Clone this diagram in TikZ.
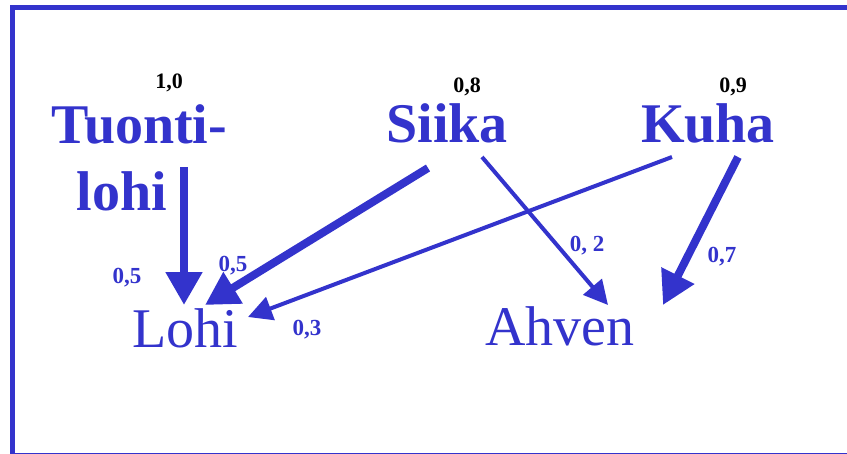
\documentclass[tikz,border=0pt]{standalone}
\usepackage{fontspec}
\setmainfont{Liberation Serif}
\usetikzlibrary{arrows.meta}
\definecolor{fishblue}{RGB}{51,51,204}
\tikzset{
  species/.style={anchor=base, inner sep=0pt, text=fishblue, font=\fontsize{56}{60}\selectfont\bfseries},
  prey/.style={anchor=base, inner sep=0pt, text=fishblue, font=\fontsize{56}{60}\selectfont},
  weight/.style={anchor=base, inner sep=0pt, text=black, font=\fontsize{22}{24}\selectfont\bfseries},
  share/.style={anchor=base, inner sep=0pt, text=fishblue, font=\fontsize{23}{25}\selectfont\bfseries},
  thickarrow/.style={draw=fishblue, line width=8pt, -{Triangle[length=33pt,width=35pt,fill=fishblue]}},
  thinarrow/.style={draw=fishblue, line width=4pt, -{Triangle[length=24pt,width=24pt,fill=fishblue]}},
  frame/.style={draw=fishblue, line width=5pt}
}
\begin{document}
\begin{tikzpicture}[x=1pt,y=-1pt]
\useasboundingbox (0,0) rectangle (847,453);
\draw[frame] (12.5,7.5) rectangle (870,455.2);
% weights
\node[weight] (w10) at (169,88) {1,0};
\node[weight] (w08) at (467,92) {0,8};
\node[weight] (w09) at (733,92) {0,9};
% species
\node[species] (tuonti) at (139.5,143) {Tuonti-};
\node[species] (tuontilohi) at (122,210) {lohi};
\node[species] (siika) at (447,142) {Siika};
\node[species] (kuha) at (708,142) {Kuha};
\node[prey] (lohi) at (185,347) {Lohi};
\node[prey] (ahven) at (560,345) {Ahven};
% shares
\node[share] (s1) at (127,283) {0,5};
\node[share] (s2) at (233,271) {0,5};
\node[share] (s3) at (307,335) {0,3};
\node[share] (s4) at (587,251) {0, 2};
\node[share] (s5) at (722,262) {0,7};
% arrows
\draw[thickarrow] ([shift={(62,-43)}]tuontilohi.base) -- ([shift={(-1,-42)}]lohi.base);
\draw[thickarrow] ([shift={(-19,26)}]siika.base) -- ([shift={(20,-42)}]lohi.base);
\draw[thinarrow] ([shift={(-36,15)}]kuha.base) -- ([shift={(63,-30)}]lohi.base);
\draw[thinarrow] ([shift={(35,15)}]siika.base) -- ([shift={(48,-40)}]ahven.base);
\draw[thickarrow] ([shift={(30,15)}]kuha.base) -- ([shift={(103,-40)}]ahven.base);
\end{tikzpicture}
\end{document}
